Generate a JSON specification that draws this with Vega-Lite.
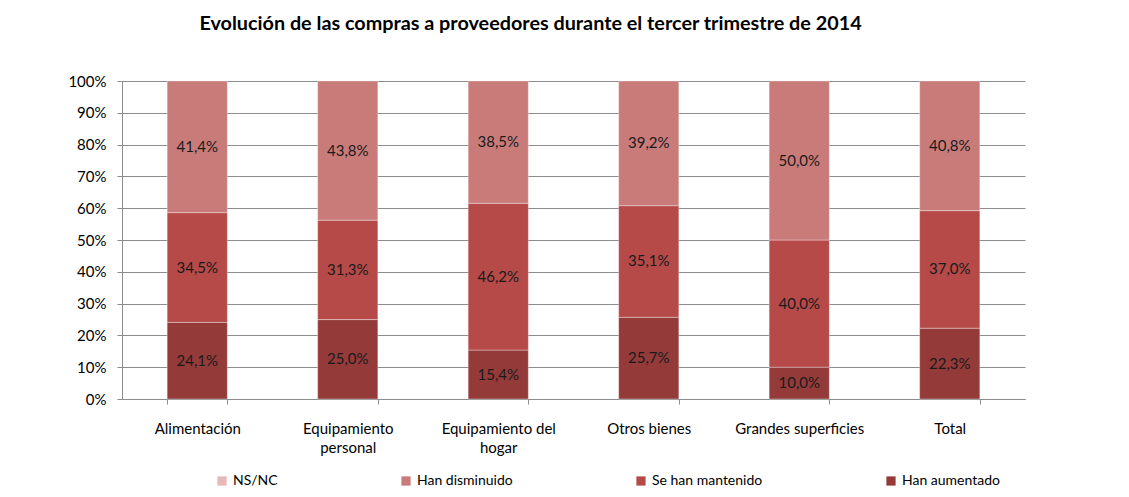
{
  "$schema": "https://vega.github.io/schema/vega-lite/v6.json",
  "autosize": {"type": "none"},
  "width": 903,
  "height": 318,
  "padding": {"left": 122, "top": 81, "right": 104, "bottom": 98},
  "background": "white",
  "config": {
    "font": "Lato",
    "locale": {"number": {"decimal": ",", "thousands": ".", "grouping": [3], "currency": ["", " €"]}},
    "view": {"stroke": null},
    "axisY": {
      "title": null,
      "format": ".0%",
      "values": [0, 0.1, 0.2, 0.3, 0.4, 0.5, 0.6, 0.7, 0.8, 0.9, 1],
      "labelOverlap": false,
      "labelFont": "Lato",
      "labelFontSize": 15,
      "labelColor": "#000000",
      "labelPadding": 11,
      "tickSize": 5,
      "tickColor": "#8c8c8c",
      "domainColor": "#8c8c8c",
      "gridColor": "#8c8c8c",
      "gridWidth": 1
    }
  },
  "title": {
    "text": "Evolución de las compras a proveedores durante el tercer trimestre de 2014",
    "font": "Lato",
    "fontSize": 19.8,
    "fontWeight": "bold",
    "color": "#000000",
    "anchor": "middle",
    "dx": -43,
    "offset": 40
  },
  "data": {
    "values": [
      {"cat": "Alimentación", "serie": "Han aumentado", "orden": 1, "valor": 0.241},
      {"cat": "Alimentación", "serie": "Se han mantenido", "orden": 2, "valor": 0.345},
      {"cat": "Alimentación", "serie": "Han disminuido", "orden": 3, "valor": 0.414},
      {"cat": "Equipamiento personal", "serie": "Han aumentado", "orden": 1, "valor": 0.250},
      {"cat": "Equipamiento personal", "serie": "Se han mantenido", "orden": 2, "valor": 0.313},
      {"cat": "Equipamiento personal", "serie": "Han disminuido", "orden": 3, "valor": 0.438},
      {"cat": "Equipamiento del hogar", "serie": "Han aumentado", "orden": 1, "valor": 0.154},
      {"cat": "Equipamiento del hogar", "serie": "Se han mantenido", "orden": 2, "valor": 0.462},
      {"cat": "Equipamiento del hogar", "serie": "Han disminuido", "orden": 3, "valor": 0.385},
      {"cat": "Otros bienes", "serie": "Han aumentado", "orden": 1, "valor": 0.257},
      {"cat": "Otros bienes", "serie": "Se han mantenido", "orden": 2, "valor": 0.351},
      {"cat": "Otros bienes", "serie": "Han disminuido", "orden": 3, "valor": 0.392},
      {"cat": "Grandes superficies", "serie": "Han aumentado", "orden": 1, "valor": 0.100},
      {"cat": "Grandes superficies", "serie": "Se han mantenido", "orden": 2, "valor": 0.400},
      {"cat": "Grandes superficies", "serie": "Han disminuido", "orden": 3, "valor": 0.500},
      {"cat": "Total", "serie": "Han aumentado", "orden": 1, "valor": 0.223},
      {"cat": "Total", "serie": "Se han mantenido", "orden": 2, "valor": 0.370},
      {"cat": "Total", "serie": "Han disminuido", "orden": 3, "valor": 0.408}
    ]
  },
  "transform": [
    {"stack": "valor", "groupby": ["cat"], "sort": [{"field": "orden", "order": "ascending"}], "offset": "normalize", "as": ["v0", "v1"]}
  ],
  "encoding": {
    "x": {
      "field": "cat",
      "type": "nominal",
      "sort": ["Alimentación", "Equipamiento personal", "Equipamiento del hogar", "Otros bienes", "Grandes superficies", "Total"],
      "scale": {"paddingInner": 0.6, "paddingOuter": 0.3},
      "axis": {
        "title": null,
        "labelAngle": 0,
        "labelFont": "Lato",
        "labelFontSize": 15,
        "labelColor": "#000000",
        "labelPadding": 29,
        "labelLineHeight": 19,
        "labelBaseline": "alphabetic",
        "tickBand": "extent",
        "tickSize": 5,
        "tickColor": "#8c8c8c",
        "domainColor": "#8c8c8c",
        "labelExpr": "datum.value == 'Equipamiento personal' ? ['Equipamiento', 'personal'] : datum.value == 'Equipamiento del hogar' ? ['Equipamiento del', 'hogar'] : datum.value"
      }
    }
  },
  "layer": [
    {
      "mark": {"type": "bar", "stroke": "#ffffff", "strokeOpacity": 0.35, "strokeWidth": 1},
      "encoding": {
        "y": {
          "field": "v0",
          "type": "quantitative",
          "scale": {"domain": [0, 1]}
        },
        "y2": {"field": "v1"},
        "color": {
          "field": "serie",
          "type": "nominal",
          "scale": {
            "domain": ["NS/NC", "Han disminuido", "Se han mantenido", "Han aumentado"],
            "range": ["#e6b9b8", "#c97b7a", "#b54a48", "#943b3a"]
          },
          "legend": {
            "title": null,
            "orient": "none",
            "legendX": 93,
            "legendY": 393,
            "direction": "horizontal",
            "columns": 4,
            "columnPadding": 121,
            "symbolType": "square",
            "symbolSize": 85,
            "symbolStrokeWidth": 0,
            "labelFont": "Lato",
            "labelFontSize": 14,
            "labelColor": "#000000",
            "labelOffset": 4
          }
        }
      }
    },
    {
      "transform": [
        {"fold": ["v0", "v1"], "as": ["borde", "pos"]},
        {"aggregate": [{"op": "mean", "field": "pos", "as": "medio"}, {"op": "max", "field": "valor", "as": "valor"}], "groupby": ["cat", "serie"]}
      ],
      "mark": {"type": "text", "font": "Lato", "fontSize": 15, "color": "#1a1a1a", "baseline": "middle"},
      "encoding": {
        "y": {"field": "medio", "type": "quantitative"},
        "text": {"field": "valor", "type": "quantitative", "format": ".1%"}
      }
    }
  ]
}
